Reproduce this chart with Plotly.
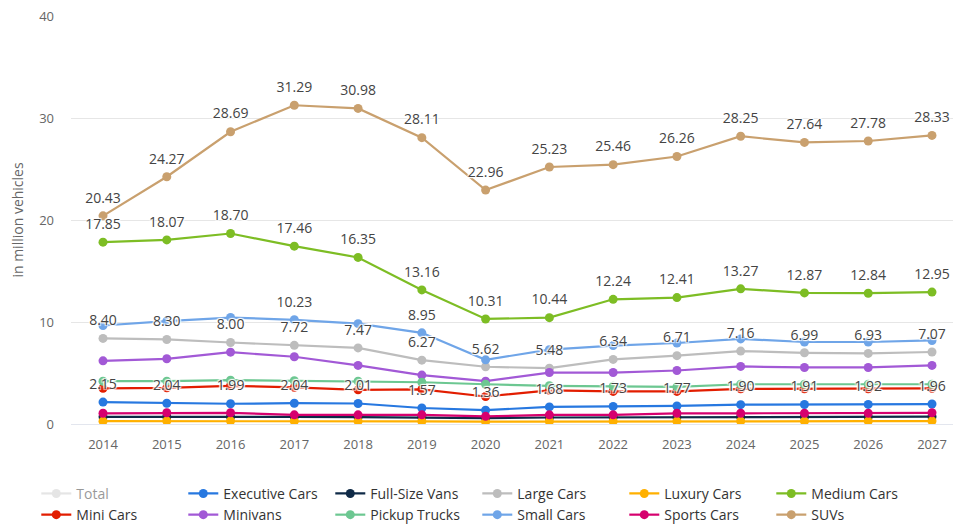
import plotly.graph_objects as go

years = list(range(2014, 2028))

total = [74.47, 79.08, 85.08, 85.11, 81.85, 72.22, 58.94, 64.06, 67.28, 69.24, 74.00, 72.43, 72.49, 73.81]
executive_cars = [2.15, 2.04, 1.99, 2.04, 2.01, 1.57, 1.36, 1.68, 1.73, 1.77, 1.90, 1.91, 1.92, 1.96]
full_size_vans = [0.70, 0.72, 0.72, 0.70, 0.68, 0.66, 0.58, 0.64, 0.66, 0.68, 0.70, 0.70, 0.70, 0.72]
large_cars = [8.40, 8.30, 8.00, 7.72, 7.47, 6.27, 5.62, 5.48, 6.34, 6.71, 7.16, 6.99, 6.93, 7.07]
luxury_cars = [0.28, 0.29, 0.29, 0.28, 0.27, 0.26, 0.23, 0.25, 0.26, 0.27, 0.28, 0.28, 0.28, 0.29]
medium_cars = [17.85, 18.07, 18.70, 17.46, 16.35, 13.16, 10.31, 10.44, 12.24, 12.41, 13.27, 12.87, 12.84, 12.95]
mini_cars = [3.50, 3.55, 3.75, 3.60, 3.35, 3.40, 2.70, 3.30, 3.20, 3.20, 3.45, 3.45, 3.45, 3.50]
minivans = [6.20, 6.40, 7.05, 6.60, 5.75, 4.80, 4.20, 5.05, 5.05, 5.25, 5.65, 5.55, 5.55, 5.75]
pickup_trucks = [4.20, 4.20, 4.30, 4.25, 4.20, 4.10, 3.90, 3.75, 3.70, 3.65, 3.90, 3.90, 3.90, 3.90]
small_cars = [9.67, 10.10, 10.45, 10.23, 9.85, 8.95, 6.30, 7.30, 7.70, 7.95, 8.35, 8.05, 8.05, 8.20]
sports_cars = [1.05, 1.10, 1.10, 0.90, 0.90, 0.90, 0.75, 0.90, 0.90, 1.05, 1.05, 1.05, 1.05, 1.10]
suvs = [20.43, 24.27, 28.69, 31.29, 30.98, 28.11, 22.96, 25.23, 25.46, 26.26, 28.25, 27.64, 27.78, 28.33]

# years whose data label is visible for Small Cars (others hidden by overlap)
small_label_years = [2017, 2019]

series = [
    ("Total", total, "#cccccc", False),
    ("Executive Cars", executive_cars, "#2778e0", True),
    ("Full-Size Vans", full_size_vans, "#0f2a47", True),
    ("Large Cars", large_cars, "#bdbdbd", True),
    ("Luxury Cars", luxury_cars, "#ffb000", True),
    ("Medium Cars", medium_cars, "#7dbd24", True),
    ("Mini Cars", mini_cars, "#e21d00", True),
    ("Minivans", minivans, "#a259d6", True),
    ("Pickup Trucks", pickup_trucks, "#6cc791", True),
    ("Small Cars", small_cars, "#6fa5e8", True),
    ("Sports Cars", sports_cars, "#d6006e", True),
    ("SUVs", suvs, "#c9a06e", True),
]

fig = go.Figure()
for name, vals, color, vis in series:
    fig.add_trace(go.Scatter(
        x=years, y=vals, name=name, mode="lines+markers",
        line=dict(color=color, width=2.2),
        marker=dict(color=color, size=9),
        visible=True if vis else "legendonly",
        hoverinfo="x+y+name",
    ))

label_font = dict(family="Open Sans, sans-serif", size=14, color="#444444",
                  shadow="1px 1px 1px #fff, -1px -1px 1px #fff, 1px -1px 1px #fff, -1px 1px 1px #fff")

def label_trace(vals, texts):
    return go.Scatter(
        x=years, y=vals, mode="markers+text", text=texts,
        textposition="top center", textfont=label_font,
        marker=dict(size=14, opacity=0), showlegend=False, hoverinfo="skip",
    )

for vals in (executive_cars, large_cars, medium_cars, suvs):
    fig.add_trace(label_trace(vals, [f"{v:.2f}" for v in vals]))
fig.add_trace(label_trace(small_cars, [f"{v:.2f}" if yr in small_label_years else "" for yr, v in zip(years, small_cars)]))

fig.update_layout(
    width=953, height=518,
    margin=dict(l=63, r=0, t=8, b=102, autoexpand=False),
    paper_bgcolor="white", plot_bgcolor="white",
    font=dict(family="Open Sans, sans-serif", color="#666666"),
    showlegend=True,
    legend=dict(
        orientation="h", x=-0.039, xanchor="left", y=-0.132, yanchor="top",
        entrywidth=102, entrywidthmode="pixels",
        font=dict(size=14, color="#333333"),
        itemclick="toggle",
    ),
    xaxis=dict(
        range=[2013.498, 2027.455], tickmode="array", tickvals=years,
        ticktext=[str(y) for y in years], showgrid=False, zeroline=False,
        showline=True, linecolor="#e3e6ee", linewidth=1,
        tickfont=dict(size=13, color="#666666"), ticks="", ticklabelstandoff=8,
    ),
    yaxis=dict(
        range=[0, 40.05], tickvals=[0, 10, 20, 30, 40], showgrid=True,
        gridcolor="#e6e6e6", gridwidth=1, zeroline=False,
        tickfont=dict(size=13, color="#666666"), ticklabelstandoff=16,
        ticklabeloverflow="allow",
        title=dict(text="in million vehicles", font=dict(size=14, color="#666666"), standoff=13),
    ),
)

fig.write_html("out.html")
